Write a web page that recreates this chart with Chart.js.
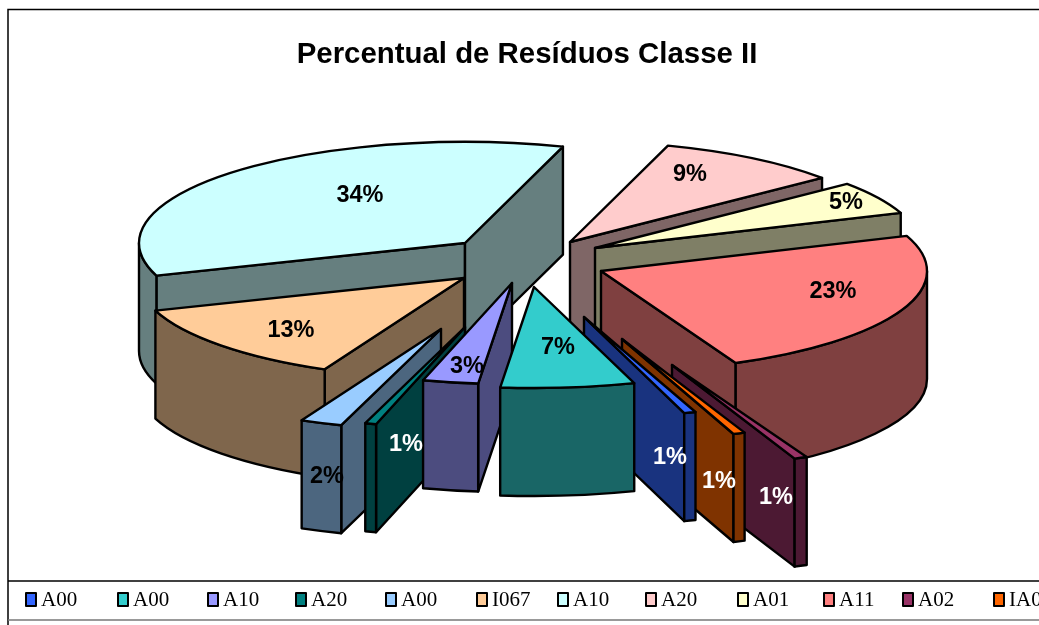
<!DOCTYPE html>
<html>
<head>
<meta charset="utf-8">
<title>Percentual de Resíduos Classe II</title>
<script src="https://cdn.jsdelivr.net/npm/chart.js@4"></script>
<style>
    html, body { margin: 0; padding: 0; background: #fff; overflow: hidden; width: 1039px; height: 625px; }
    canvas { display: block; }
</style>
</head>
<body>
<canvas id="residuos" width="1054" height="625"></canvas>
<script>
// Dados
const categories = ['A00', 'A00', 'A10', 'A20', 'A00', 'I067', 'A10', 'A20', 'A01', 'A11', 'A02', 'IA0'];
const percentValues = [0.57, 6.5, 2.69, 0.54, 2.04, 12.5, 34.4, 9.03, 5.19, 23.4, 0.63, 0.57];
const sliceColors = ['#3366FF', '#33CCCC', '#9999FF', '#008080', '#99CCFF', '#FFCC99',
    '#CCFFFF', '#FFCCCC', '#FFFFCC', '#FF8080', '#993366', '#FF6600'];
const labelColors = ['#fff', '#000', '#000', '#fff', '#000', '#000', '#000', '#000', '#000', '#000', '#fff', '#fff'];

// Deslocamento de cada fatia (explodida) em relacao ao centro da pizza
const explode = [[64, 55], [14, 25], [-8, 21], [-55, 65], [-79, 67], [-56, 16],
    [-55, -19], [50, -20], [75, -14], [81, 9], [152, 103], [102, 77]];
// Posicao do rotulo em relacao ao vertice da fatia
const labelShift = [[86, 141], [24, 61], [-45, 84], [-59, 118], [-114, 148], [-173, 53],
    [-105, -47], [120, -67], [251, -45], [232, 21], [104, 133], [97, 143]];
// Inicio de cada item da legenda
const legendX = [25, 117, 207, 295, 385, 476, 557, 645, 737, 823, 902, 993];

const darken = (hex) => {
    const n = parseInt(hex.slice(1), 16);
    return `rgb(${(n >> 16) >> 1}, ${((n >> 8) & 255) >> 1}, ${(n & 255) >> 1})`;
};

const pie3d = {
    id: 'pie3d',

    beforeDraw(chart) {
        const ctx = chart.ctx;
        ctx.save();
        ctx.strokeStyle = '#000';
        ctx.lineWidth = 1.5;
        ctx.strokeRect(8, 9.5, 1100, 700);
        ctx.beginPath();
        ctx.moveTo(8, 581);
        ctx.lineTo(1054, 581);
        ctx.stroke();
        ctx.strokeStyle = '#777';
        ctx.beginPath();
        ctx.moveTo(8, 620);
        ctx.lineTo(1054, 620);
        ctx.stroke();
        ctx.restore();
    },

    beforeDatasetsDraw(chart, args, opts) {
        const ctx = chart.ctx;
        const arcs = chart.getDatasetMeta(0).data.map((arc, index) => ({ arc, index }));
        const distFromFront = ({ arc }) => {
            const mid = (arc.startAngle + arc.endAngle) / 2;
            return Math.abs(Math.atan2(Math.sin(mid - Math.PI / 2), Math.cos(mid - Math.PI / 2)));
        };
        // As fatias da frente sao desenhadas por ultimo
        arcs.sort((a, b) => distFromFront(b) - distFromFront(a));

        arcs.forEach(({ arc, index }) => {
            const ax = opts.centerX + explode[index][0];
            const ay = opts.centerY + explode[index][1];
            this.drawWalls(ctx, arc, ax, ay, opts, darken(sliceColors[index]));

            // Face de cima: o proprio arco do Chart.js, achatado
            ctx.save();
            ctx.translate(ax, ay);
            ctx.scale(1, opts.squash);
            ctx.translate(-arc.x, -arc.y);
            arc.draw(ctx);
            ctx.restore();

            ctx.beginPath();
            ctx.moveTo(ax, ay);
            ctx.ellipse(ax, ay, arc.outerRadius, arc.outerRadius * opts.squash, 0, arc.startAngle, arc.endAngle);
            ctx.closePath();
            ctx.stroke();
        });

        ctx.save();
        ctx.font = 'bold 23.5px "Liberation Sans", Arial, sans-serif';
        ctx.textAlign = 'center';
        ctx.textBaseline = 'middle';
        percentValues.forEach((value, i) => {
            ctx.fillStyle = labelColors[i];
            ctx.fillText(`${Math.round(value)}%`,
                opts.centerX + explode[i][0] + labelShift[i][0],
                opts.centerY + explode[i][1] + labelShift[i][1]);
        });
        ctx.restore();
        return false;
    },

    drawWalls(ctx, arc, ax, ay, opts, color) {
        const r = arc.outerRadius;
        const ry = r * opts.squash;
        const h = opts.depth;
        const s = arc.startAngle;
        const e = arc.endAngle;
        ctx.fillStyle = color;
        ctx.strokeStyle = '#000';
        ctx.lineWidth = 2.4;
        ctx.lineJoin = 'round';

        const radialWall = (angle) => {
            const px = ax + Math.cos(angle) * r;
            const py = ay + Math.sin(angle) * ry;
            ctx.beginPath();
            ctx.moveTo(ax, ay);
            ctx.lineTo(px, py);
            ctx.lineTo(px, py + h);
            ctx.lineTo(ax, ay + h);
            ctx.closePath();
            ctx.fill();
            ctx.stroke();
        };
        if (Math.cos(s) < 0) radialWall(s);
        if (Math.cos(e) > 0) radialWall(e);

        // Parede externa: so a parte da borda virada para a frente
        for (let k = -1; k <= 2; k++) {
            const lo = Math.max(s, 2 * Math.PI * k);
            const hi = Math.min(e, 2 * Math.PI * k + Math.PI);
            if (lo >= hi) continue;
            ctx.beginPath();
            ctx.ellipse(ax, ay, r, ry, 0, lo, hi);
            ctx.ellipse(ax, ay + h, r, ry, 0, hi, lo, true);
            ctx.closePath();
            ctx.fill();
            ctx.stroke();
        }
    },

    afterDraw(chart) {
        const ctx = chart.ctx;
        ctx.save();
        ctx.textBaseline = 'middle';
        ctx.font = '21px "Liberation Serif", "Times New Roman", serif';
        categories.forEach((name, i) => {
            ctx.fillStyle = sliceColors[i];
            ctx.strokeStyle = '#000';
            ctx.lineWidth = 2;
            ctx.fillRect(legendX[i] + 1, 593, 10, 13);
            ctx.strokeRect(legendX[i] + 1, 593, 10, 13);
            ctx.fillStyle = '#000';
            ctx.fillText(name, legendX[i] + 16, 600);
        });
        ctx.restore();
    }
};

new Chart(document.getElementById('residuos'), {
    type: 'pie',
    data: {
        labels: categories,
        datasets: [{
            data: percentValues,
            backgroundColor: sliceColors,
            borderWidth: 0,
            rotation: 160,
            radius: 326
        }]
    },
    options: {
        responsive: false,
        animation: false,
        plugins: {
            legend: { display: false },
            tooltip: { enabled: false },
            title: {
                display: true,
                text: 'Percentual de Resíduos Classe II',
                color: '#000',
                font: { family: '"Liberation Sans", Arial, sans-serif', size: 29.4, weight: 'bold' },
                padding: { top: 37, bottom: 10 }
            },
            pie3d: { centerX: 520, centerY: 262, squash: 0.31, depth: 108 }
        }
    },
    plugins: [pie3d]
});
</script>
</body>
</html>
